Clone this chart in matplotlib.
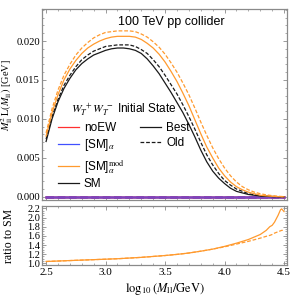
import numpy as np
import matplotlib.pyplot as plt
from matplotlib.ticker import MultipleLocator, FormatStrFormatter

plt.rcParams["font.family"] = ["Liberation Serif", "DejaVu Serif"]
plt.rcParams["mathtext.fontset"] = "stix"

# log10(M_ll / GeV), 0.05 steps
x_top = [2.50, 2.55, 2.60, 2.65, 2.70, 2.75, 2.80, 2.85, 2.90, 2.95,
         3.00, 3.05, 3.10, 3.15, 3.20, 3.25, 3.30, 3.35, 3.40, 3.45,
         3.50, 3.55, 3.60, 3.65, 3.70, 3.75, 3.80, 3.85, 3.90, 3.95,
         4.00, 4.05, 4.10, 4.15, 4.20, 4.25, 4.30, 4.35, 4.40, 4.45, 4.50]

sm_best = [0.0071, 0.0100, 0.0122, 0.0139, 0.0152, 0.0163, 0.0171, 0.0177, 0.0182, 0.0185,
           0.0188, 0.0190, 0.0191, 0.0191, 0.0190, 0.0188, 0.0184, 0.0177, 0.0168, 0.0158,
           0.0146, 0.0134, 0.0121, 0.0108, 0.0093, 0.0077, 0.0060, 0.0045, 0.0033, 0.0024,
           0.0017, 0.0011, 0.0007, 0.0005, 0.0003, 0.0002, 0.0001, 0.00006, 0.00003, 0.00001, 0.0]
sm_old = [0.0074, 0.0103, 0.0125, 0.0143, 0.0156, 0.0167, 0.0176, 0.0182, 0.0187, 0.0190,
          0.0193, 0.0194, 0.0195, 0.0195, 0.0195, 0.0193, 0.0189, 0.0184, 0.0176, 0.0167,
          0.0156, 0.0144, 0.0132, 0.0118, 0.0103, 0.0087, 0.0070, 0.0054, 0.0041, 0.0030,
          0.0021, 0.0015, 0.0010, 0.0007, 0.0004, 0.00025, 0.00015, 0.00008, 0.00004, 0.00002, 0.0]
mod_best = [0.0078, 0.0108, 0.0131, 0.0150, 0.0164, 0.0175, 0.0184, 0.0191, 0.0196, 0.0200,
            0.0203, 0.0205, 0.0206, 0.0206, 0.0206, 0.0205, 0.0202, 0.0197, 0.0191, 0.0183,
            0.0173, 0.0161, 0.0148, 0.0133, 0.0117, 0.0099, 0.0081, 0.0064, 0.0050, 0.0037,
            0.0027, 0.0019, 0.0013, 0.0009, 0.0006, 0.0004, 0.0002, 0.00012, 0.00006, 0.00003, 0.0]
mod_old = [0.0082, 0.0113, 0.0137, 0.0156, 0.0170, 0.0182, 0.0191, 0.0198, 0.0204, 0.0208,
           0.0211, 0.0212, 0.0213, 0.0213, 0.0213, 0.0212, 0.0209, 0.0205, 0.0199, 0.0192,
           0.0183, 0.0172, 0.0160, 0.0146, 0.0131, 0.0114, 0.0096, 0.0079, 0.0063, 0.0049,
           0.0037, 0.0027, 0.0019, 0.0013, 0.0009, 0.0006, 0.0004, 0.00025, 0.00015, 0.00007, 0.00002]
noew = [0.0] * len(x_top)
sm_alpha = [0.0] * len(x_top)

x_ratio = [2.5, 2.6, 2.7, 2.8, 2.9, 3.0, 3.1, 3.2, 3.3, 3.4, 3.5, 3.6, 3.7, 3.8, 3.9,
           4.0, 4.1, 4.2, 4.3, 4.35, 4.38, 4.4, 4.42, 4.45, 4.47, 4.48, 4.5]
ratio_best = [1.04, 1.05, 1.06, 1.07, 1.08, 1.09, 1.10, 1.115, 1.13, 1.15, 1.17, 1.195, 1.225, 1.265, 1.31,
              1.37, 1.44, 1.52, 1.63, 1.72, 1.80, 1.83, 1.90, 2.05, 2.17, 2.19, 2.13]
ratio_old = [1.04, 1.05, 1.06, 1.07, 1.08, 1.09, 1.10, 1.115, 1.13, 1.15, 1.17, 1.195, 1.225, 1.265, 1.31,
             1.36, 1.42, 1.48, 1.55, 1.59, 1.61, 1.63, 1.66, 1.69, 1.71, 1.72, 1.72]

ORANGE = "#FF9A2E"
BLACK = "#1a1a1a"
RED = "#FF3030"
BLUE = "#4050FF"
FRAME = "#8a8a8a"
DASH = (0, (3.0, 1.5))
SANS = ["Liberation Sans", "DejaVu Sans"]

fig = plt.figure(figsize=(2.92, 3.02), dpi=100)
ax = fig.add_axes([0.144, 0.338, 0.839, 0.632])
axr = fig.add_axes([0.144, 0.1225, 0.839, 0.195])

# zero lines (noEW and [SM]_alpha overlap -> purple band)
ax.plot(x_top, noew, color=RED, lw=1.8, ls=DASH)
ax.plot(x_top, sm_alpha, color=BLUE, lw=1.8, ls=DASH)
ax.plot(x_top, noew, color=RED, lw=1.8)
ax.plot(x_top, sm_alpha, color=BLUE, lw=1.8, alpha=0.7)

ax.plot(x_top, sm_best, color=BLACK, lw=0.9)
ax.plot(x_top, sm_old, color=BLACK, lw=0.9, ls=DASH)
ax.plot(x_top, mod_best, color=ORANGE, lw=0.9)
ax.plot(x_top, mod_old, color=ORANGE, lw=0.9, ls=DASH)

axr.plot(x_ratio, ratio_best, color=ORANGE, lw=0.9)
axr.plot(x_ratio, ratio_old, color=ORANGE, lw=0.9, ls=DASH)

for a in (ax, axr):
    a.set_xlim(2.466, 4.525)
    a.xaxis.set_major_locator(MultipleLocator(0.5))
    a.xaxis.set_minor_locator(MultipleLocator(0.1))
    a.tick_params(which="both", direction="in", top=True, right=True, color=FRAME,
                  labelsize=8, pad=2)
    a.tick_params(which="major", length=3, width=0.6)
    a.tick_params(which="minor", length=1.6, width=0.5)
    for s in a.spines.values():
        s.set_color(FRAME)
        s.set_linewidth(0.9)

ax.set_ylim(-0.0004, 0.0241)
ax.yaxis.set_major_locator(MultipleLocator(0.005))
ax.yaxis.set_minor_locator(MultipleLocator(0.001))
ax.yaxis.set_major_formatter(FormatStrFormatter("%.3f"))
ax.tick_params(labelbottom=False)
ax.tick_params(axis="y", labelsize=7.7, pad=1.5)
ax.set_ylabel(r"$M_{\rm ll}^{2}\,{\rm L}(M_{\rm ll})$ [GeV]", fontsize=7.5)
ax.yaxis.set_label_coords(-0.11, 0.55)

axr.set_ylim(0.963, 2.25)
axr.yaxis.set_major_locator(MultipleLocator(0.2))
axr.yaxis.set_minor_locator(MultipleLocator(0.05))
axr.yaxis.set_major_formatter(FormatStrFormatter("%.1f"))
axr.tick_params(axis="y", labelsize=7.5, pad=1.5)
axr.set_ylabel("ratio to SM", fontsize=8.5)
axr.yaxis.set_label_coords(-0.11, 0.5)
axr.set_xlabel(r"$\log_{10}(M_{\rm ll}/{\rm GeV})$", fontsize=9, labelpad=3)

ax.text(0.527, 0.932, "100 TeV pp collider", transform=ax.transAxes,
        ha="center", va="center", fontsize=9, family=SANS)

# legend: colours in first column, line styles in second
h_noew, = ax.plot([], [], color=RED, lw=0.9)
h_sma, = ax.plot([], [], color=BLUE, lw=0.9)
h_mod, = ax.plot([], [], color=ORANGE, lw=0.9)
h_sm, = ax.plot([], [], color=BLACK, lw=0.9)
h_best, = ax.plot([], [], color=BLACK, lw=0.9)
h_old, = ax.plot([], [], color=BLACK, lw=0.9, ls=DASH)
h_blank, = ax.plot([], [], color="none")
leg = ax.legend(
    [h_noew, h_sma, h_mod, h_sm, h_best, h_old, h_blank, h_blank],
    ["noEW", r"[SM]$_\alpha$", r"[SM]$_\alpha^{\rm mod}$", "SM", "Best", "Old", "", ""],
    ncol=2, loc="upper left", bbox_to_anchor=(0.065, 0.515), frameon=False,
    borderpad=0, borderaxespad=0, handlelength=1.75, handletextpad=0.45,
    columnspacing=1.3, labelspacing=0.3,
    title=r"$W_T^{\ +}W_T^{\ -}$ Initial State",
    prop={"family": SANS, "size": 8.5},
)
leg.get_title().set_fontsize(8.5)
leg.get_title().set_family(SANS)

fig.savefig("out.png", dpi=100)
